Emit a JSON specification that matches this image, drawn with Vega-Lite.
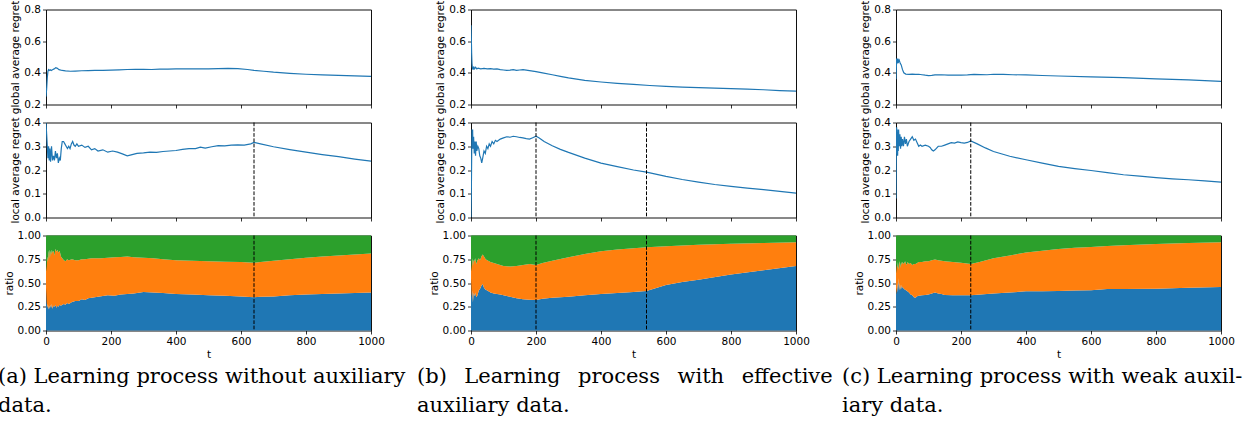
{
"$schema": "https://vega.github.io/schema/vega-lite/v6.json",
"autosize": {"type": "none"},
"padding": {"left": 46, "top": 9.5, "right": 1197, "bottom": 411.5},
"background": "white",
"config": {
 "view": {"stroke": "#111", "strokeWidth": 1},
 "axis": {"domain": false, "grid": false, "labelFont": "DejaVu Sans", "labelFontSize": 10.5, "labelColor": "#000", "tickColor": "#000", "tickSize": 3.5, "tickWidth": 0.8, "labelPadding": 2, "titleFont": "DejaVu Sans", "titleFontSize": 10.5, "titleFontWeight": "normal", "titleColor": "#000", "titlePadding": 3, "labelFlush": false, "labelOverlap": false},
 "title": {"font": "DejaVu Serif", "fontSize": 21, "fontWeight": "normal", "color": "#000", "orient": "bottom", "anchor": "start", "frame": "group", "lineHeight": 29, "offset": 6}
},
"datasets": {
 "ga": [{"t":0,"v":0.25},{"t":2,"v":0.3},{"t":4,"v":0.37},{"t":6,"v":0.41},{"t":8,"v":0.42},{"t":10,"v":0.415},{"t":13,"v":0.42},{"t":16,"v":0.415},{"t":20,"v":0.42},{"t":25,"v":0.425},{"t":30,"v":0.432},{"t":35,"v":0.428},{"t":40,"v":0.42},{"t":50,"v":0.415},{"t":60,"v":0.412},{"t":75,"v":0.41},{"t":90,"v":0.411},{"t":110,"v":0.413},{"t":130,"v":0.414},{"t":150,"v":0.415},{"t":175,"v":0.416},{"t":200,"v":0.417},{"t":225,"v":0.419},{"t":250,"v":0.421},{"t":275,"v":0.422},{"t":300,"v":0.422},{"t":325,"v":0.421},{"t":350,"v":0.423},{"t":375,"v":0.424},{"t":400,"v":0.425},{"t":450,"v":0.425},{"t":500,"v":0.425},{"t":530,"v":0.426},{"t":560,"v":0.428},{"t":590,"v":0.426},{"t":620,"v":0.421},{"t":640,"v":0.416},{"t":670,"v":0.41},{"t":700,"v":0.404},{"t":750,"v":0.397},{"t":800,"v":0.391},{"t":850,"v":0.387},{"t":900,"v":0.384},{"t":950,"v":0.381},{"t":1000,"v":0.378}],
 "la": [{"t":0,"v":0.4},{"t":2,"v":0.35},{"t":4,"v":0.3},{"t":6,"v":0.25},{"t":8,"v":0.3},{"t":10,"v":0.24},{"t":12,"v":0.29},{"t":14,"v":0.235},{"t":17,"v":0.3},{"t":20,"v":0.24},{"t":23,"v":0.26},{"t":26,"v":0.24},{"t":29,"v":0.28},{"t":32,"v":0.25},{"t":35,"v":0.27},{"t":38,"v":0.23},{"t":41,"v":0.25},{"t":44,"v":0.24},{"t":47,"v":0.29},{"t":50,"v":0.32},{"t":54,"v":0.32},{"t":58,"v":0.31},{"t":62,"v":0.3},{"t":66,"v":0.29},{"t":70,"v":0.3},{"t":74,"v":0.29},{"t":78,"v":0.31},{"t":82,"v":0.32},{"t":86,"v":0.305},{"t":90,"v":0.3},{"t":95,"v":0.31},{"t":100,"v":0.3},{"t":110,"v":0.305},{"t":120,"v":0.295},{"t":130,"v":0.3},{"t":140,"v":0.285},{"t":150,"v":0.29},{"t":160,"v":0.28},{"t":175,"v":0.285},{"t":190,"v":0.275},{"t":205,"v":0.28},{"t":220,"v":0.275},{"t":235,"v":0.268},{"t":250,"v":0.26},{"t":265,"v":0.265},{"t":280,"v":0.27},{"t":300,"v":0.272},{"t":320,"v":0.275},{"t":340,"v":0.274},{"t":360,"v":0.278},{"t":380,"v":0.28},{"t":400,"v":0.282},{"t":420,"v":0.287},{"t":440,"v":0.29},{"t":460,"v":0.29},{"t":475,"v":0.296},{"t":490,"v":0.292},{"t":510,"v":0.298},{"t":530,"v":0.303},{"t":550,"v":0.302},{"t":570,"v":0.305},{"t":590,"v":0.306},{"t":610,"v":0.305},{"t":630,"v":0.31},{"t":640,"v":0.316},{"t":660,"v":0.31},{"t":700,"v":0.298},{"t":750,"v":0.286},{"t":800,"v":0.275},{"t":850,"v":0.265},{"t":900,"v":0.256},{"t":950,"v":0.246},{"t":1000,"v":0.237}],
 "ra": [{"t":0,"b":0.45,"o":0.62},{"t":2,"b":0.3,"o":0.7},{"t":4,"b":0.24,"o":0.78},{"t":6,"b":0.28,"o":0.72},{"t":8,"b":0.22,"o":0.82},{"t":10,"b":0.26,"o":0.85},{"t":12,"b":0.23,"o":0.76},{"t":14,"b":0.27,"o":0.84},{"t":16,"b":0.24,"o":0.8},{"t":18,"b":0.28,"o":0.85},{"t":20,"b":0.23,"o":0.82},{"t":23,"b":0.26,"o":0.84},{"t":26,"b":0.25,"o":0.79},{"t":29,"b":0.27,"o":0.86},{"t":32,"b":0.24,"o":0.83},{"t":35,"b":0.26,"o":0.85},{"t":38,"b":0.25,"o":0.82},{"t":42,"b":0.27,"o":0.84},{"t":46,"b":0.26,"o":0.78},{"t":50,"b":0.27,"o":0.76},{"t":55,"b":0.28,"o":0.74},{"t":60,"b":0.27,"o":0.73},{"t":65,"b":0.29,"o":0.75},{"t":70,"b":0.28,"o":0.74},{"t":80,"b":0.3,"o":0.75},{"t":90,"b":0.31,"o":0.74},{"t":100,"b":0.31,"o":0.74},{"t":110,"b":0.33,"o":0.75},{"t":120,"b":0.32,"o":0.75},{"t":130,"b":0.34,"o":0.755},{"t":140,"b":0.345,"o":0.76},{"t":150,"b":0.35,"o":0.76},{"t":170,"b":0.36,"o":0.76},{"t":190,"b":0.37,"o":0.765},{"t":210,"b":0.365,"o":0.77},{"t":230,"b":0.38,"o":0.775},{"t":250,"b":0.385,"o":0.78},{"t":270,"b":0.39,"o":0.77},{"t":300,"b":0.405,"o":0.765},{"t":330,"b":0.4,"o":0.76},{"t":360,"b":0.395,"o":0.75},{"t":400,"b":0.385,"o":0.74},{"t":450,"b":0.38,"o":0.735},{"t":500,"b":0.372,"o":0.73},{"t":550,"b":0.365,"o":0.725},{"t":600,"b":0.357,"o":0.72},{"t":640,"b":0.35,"o":0.712},{"t":660,"b":0.355,"o":0.72},{"t":700,"b":0.357,"o":0.735},{"t":750,"b":0.37,"o":0.75},{"t":800,"b":0.38,"o":0.765},{"t":850,"b":0.385,"o":0.78},{"t":900,"b":0.39,"o":0.79},{"t":950,"b":0.395,"o":0.8},{"t":1000,"b":0.4,"o":0.81}],
 "gb": [{"t":0,"v":0.7},{"t":1,"v":0.62},{"t":2,"v":0.52},{"t":3,"v":0.46},{"t":4,"v":0.435},{"t":6,"v":0.42},{"t":8,"v":0.44},{"t":10,"v":0.425},{"t":14,"v":0.435},{"t":18,"v":0.425},{"t":22,"v":0.43},{"t":30,"v":0.425},{"t":40,"v":0.428},{"t":50,"v":0.425},{"t":60,"v":0.427},{"t":70,"v":0.424},{"t":80,"v":0.425},{"t":90,"v":0.42},{"t":100,"v":0.418},{"t":110,"v":0.415},{"t":120,"v":0.417},{"t":130,"v":0.42},{"t":140,"v":0.416},{"t":150,"v":0.418},{"t":160,"v":0.42},{"t":170,"v":0.417},{"t":180,"v":0.414},{"t":200,"v":0.408},{"t":220,"v":0.4},{"t":250,"v":0.388},{"t":275,"v":0.378},{"t":300,"v":0.368},{"t":325,"v":0.36},{"t":350,"v":0.352},{"t":400,"v":0.342},{"t":450,"v":0.334},{"t":500,"v":0.327},{"t":550,"v":0.32},{"t":600,"v":0.314},{"t":650,"v":0.31},{"t":700,"v":0.306},{"t":750,"v":0.303},{"t":800,"v":0.3},{"t":850,"v":0.297},{"t":900,"v":0.293},{"t":950,"v":0.288},{"t":1000,"v":0.284}],
 "lb": [{"t":0,"v":0.0},{"t":1,"v":0.1},{"t":2,"v":0.25},{"t":3,"v":0.37},{"t":4,"v":0.3},{"t":5,"v":0.37},{"t":6,"v":0.29},{"t":8,"v":0.34},{"t":10,"v":0.27},{"t":12,"v":0.32},{"t":14,"v":0.26},{"t":16,"v":0.32},{"t":18,"v":0.28},{"t":21,"v":0.3},{"t":24,"v":0.29},{"t":27,"v":0.26},{"t":30,"v":0.25},{"t":33,"v":0.23},{"t":36,"v":0.25},{"t":40,"v":0.28},{"t":44,"v":0.27},{"t":48,"v":0.3},{"t":52,"v":0.29},{"t":56,"v":0.31},{"t":60,"v":0.3},{"t":65,"v":0.32},{"t":70,"v":0.31},{"t":75,"v":0.325},{"t":80,"v":0.32},{"t":90,"v":0.33},{"t":100,"v":0.335},{"t":110,"v":0.34},{"t":120,"v":0.338},{"t":130,"v":0.342},{"t":140,"v":0.34},{"t":150,"v":0.337},{"t":160,"v":0.335},{"t":170,"v":0.332},{"t":180,"v":0.33},{"t":190,"v":0.336},{"t":200,"v":0.342},{"t":210,"v":0.335},{"t":225,"v":0.32},{"t":250,"v":0.302},{"t":275,"v":0.287},{"t":300,"v":0.274},{"t":350,"v":0.25},{"t":400,"v":0.229},{"t":450,"v":0.214},{"t":500,"v":0.2},{"t":540,"v":0.191},{"t":600,"v":0.173},{"t":650,"v":0.16},{"t":700,"v":0.149},{"t":750,"v":0.139},{"t":800,"v":0.131},{"t":850,"v":0.124},{"t":900,"v":0.117},{"t":950,"v":0.11},{"t":1000,"v":0.103}],
 "rb": [{"t":0,"b":0.55,"o":0.62},{"t":2,"b":0.35,"o":0.7},{"t":4,"b":0.42,"o":0.76},{"t":6,"b":0.3,"o":0.68},{"t":8,"b":0.4,"o":0.74},{"t":10,"b":0.36,"o":0.73},{"t":13,"b":0.4,"o":0.76},{"t":16,"b":0.35,"o":0.7},{"t":20,"b":0.37,"o":0.74},{"t":24,"b":0.42,"o":0.76},{"t":28,"b":0.44,"o":0.74},{"t":32,"b":0.47,"o":0.78},{"t":36,"b":0.49,"o":0.8},{"t":40,"b":0.45,"o":0.78},{"t":45,"b":0.43,"o":0.75},{"t":50,"b":0.42,"o":0.74},{"t":60,"b":0.4,"o":0.72},{"t":70,"b":0.39,"o":0.71},{"t":80,"b":0.385,"o":0.7},{"t":90,"b":0.38,"o":0.69},{"t":100,"b":0.37,"o":0.68},{"t":120,"b":0.355,"o":0.675},{"t":140,"b":0.34,"o":0.68},{"t":160,"b":0.33,"o":0.69},{"t":180,"b":0.325,"o":0.7},{"t":200,"b":0.32,"o":0.69},{"t":220,"b":0.335,"o":0.71},{"t":250,"b":0.345,"o":0.735},{"t":300,"b":0.355,"o":0.77},{"t":350,"b":0.37,"o":0.805},{"t":400,"b":0.385,"o":0.835},{"t":450,"b":0.395,"o":0.852},{"t":500,"b":0.405,"o":0.865},{"t":540,"b":0.415,"o":0.877},{"t":600,"b":0.48,"o":0.888},{"t":650,"b":0.51,"o":0.895},{"t":700,"b":0.535,"o":0.902},{"t":800,"b":0.59,"o":0.912},{"t":900,"b":0.635,"o":0.922},{"t":1000,"b":0.678,"o":0.93}],
 "gc": [{"t":0,"v":0.36},{"t":2,"v":0.49},{"t":4,"v":0.46},{"t":6,"v":0.49},{"t":8,"v":0.47},{"t":10,"v":0.48},{"t":13,"v":0.46},{"t":16,"v":0.45},{"t":20,"v":0.42},{"t":24,"v":0.4},{"t":30,"v":0.392},{"t":40,"v":0.39},{"t":50,"v":0.392},{"t":60,"v":0.39},{"t":70,"v":0.391},{"t":80,"v":0.388},{"t":90,"v":0.385},{"t":100,"v":0.383},{"t":110,"v":0.384},{"t":120,"v":0.387},{"t":140,"v":0.388},{"t":160,"v":0.386},{"t":180,"v":0.385},{"t":200,"v":0.386},{"t":220,"v":0.387},{"t":240,"v":0.39},{"t":260,"v":0.389},{"t":280,"v":0.388},{"t":300,"v":0.391},{"t":330,"v":0.39},{"t":360,"v":0.388},{"t":400,"v":0.387},{"t":450,"v":0.383},{"t":500,"v":0.38},{"t":600,"v":0.375},{"t":700,"v":0.37},{"t":800,"v":0.362},{"t":900,"v":0.355},{"t":1000,"v":0.346}],
 "lc": [{"t":0,"v":0.08},{"t":1,"v":0.3},{"t":2,"v":0.38},{"t":3,"v":0.27},{"t":4,"v":0.37},{"t":5,"v":0.26},{"t":6,"v":0.36},{"t":7,"v":0.28},{"t":8,"v":0.37},{"t":10,"v":0.3},{"t":12,"v":0.35},{"t":14,"v":0.29},{"t":16,"v":0.34},{"t":18,"v":0.3},{"t":20,"v":0.33},{"t":23,"v":0.3},{"t":26,"v":0.34},{"t":29,"v":0.31},{"t":32,"v":0.33},{"t":35,"v":0.3},{"t":40,"v":0.32},{"t":45,"v":0.33},{"t":50,"v":0.34},{"t":55,"v":0.325},{"t":60,"v":0.33},{"t":65,"v":0.315},{"t":70,"v":0.3},{"t":75,"v":0.305},{"t":80,"v":0.3},{"t":90,"v":0.305},{"t":100,"v":0.3},{"t":105,"v":0.295},{"t":110,"v":0.285},{"t":115,"v":0.28},{"t":120,"v":0.285},{"t":130,"v":0.3},{"t":140,"v":0.3},{"t":150,"v":0.305},{"t":160,"v":0.31},{"t":170,"v":0.315},{"t":180,"v":0.313},{"t":190,"v":0.318},{"t":200,"v":0.315},{"t":210,"v":0.313},{"t":220,"v":0.316},{"t":230,"v":0.322},{"t":250,"v":0.31},{"t":275,"v":0.293},{"t":300,"v":0.278},{"t":350,"v":0.258},{"t":400,"v":0.243},{"t":450,"v":0.229},{"t":500,"v":0.215},{"t":550,"v":0.206},{"t":600,"v":0.198},{"t":650,"v":0.189},{"t":700,"v":0.18},{"t":750,"v":0.174},{"t":800,"v":0.168},{"t":850,"v":0.163},{"t":900,"v":0.159},{"t":950,"v":0.154},{"t":1000,"v":0.149}],
 "rc": [{"t":0,"b":0.45,"o":0.6},{"t":2,"b":0.38,"o":0.7},{"t":4,"b":0.5,"o":0.66},{"t":6,"b":0.4,"o":0.72},{"t":8,"b":0.55,"o":0.64},{"t":10,"b":0.42,"o":0.7},{"t":12,"b":0.5,"o":0.73},{"t":14,"b":0.43,"o":0.66},{"t":16,"b":0.48,"o":0.72},{"t":18,"b":0.44,"o":0.69},{"t":20,"b":0.46,"o":0.72},{"t":24,"b":0.44,"o":0.7},{"t":28,"b":0.43,"o":0.73},{"t":32,"b":0.42,"o":0.69},{"t":36,"b":0.41,"o":0.72},{"t":40,"b":0.4,"o":0.7},{"t":45,"b":0.38,"o":0.71},{"t":50,"b":0.37,"o":0.69},{"t":55,"b":0.35,"o":0.7},{"t":60,"b":0.345,"o":0.7},{"t":65,"b":0.36,"o":0.71},{"t":70,"b":0.365,"o":0.72},{"t":80,"b":0.37,"o":0.72},{"t":90,"b":0.375,"o":0.73},{"t":100,"b":0.38,"o":0.73},{"t":110,"b":0.39,"o":0.74},{"t":120,"b":0.4,"o":0.748},{"t":130,"b":0.39,"o":0.74},{"t":140,"b":0.385,"o":0.735},{"t":150,"b":0.375,"o":0.73},{"t":175,"b":0.37,"o":0.72},{"t":200,"b":0.37,"o":0.712},{"t":230,"b":0.372,"o":0.7},{"t":260,"b":0.38,"o":0.725},{"t":300,"b":0.39,"o":0.76},{"t":350,"b":0.4,"o":0.79},{"t":400,"b":0.412,"o":0.82},{"t":450,"b":0.414,"o":0.84},{"t":500,"b":0.415,"o":0.858},{"t":550,"b":0.42,"o":0.87},{"t":600,"b":0.425,"o":0.88},{"t":650,"b":0.438,"o":0.89},{"t":700,"b":0.437,"o":0.898},{"t":800,"b":0.44,"o":0.91},{"t":900,"b":0.45,"o":0.92},{"t":1000,"b":0.458,"o":0.93}],
 "va": [{"t":640}],
 "vb": [{"t":200},{"t":540}],
 "vc": [{"t":230}]
},
"columns": 3,
"spacing": {"row": 18, "column": 100},
"bounds": "flush",
"concat": [
 {"width":325,"height":95,"data":{"name":"ga"},"mark":{"type":"line","color":"#1f77b4","strokeWidth":1.2,"clip":true},"encoding":{"x":{"field":"t","type":"quantitative","scale":{"domain":[0,1000],"nice":false},"axis":{"values":[0,200,400,600,800,1000],"labels":false,"title":null}},"y":{"field":"v","type":"quantitative","scale":{"domain":[0.2,0.8],"nice":false,"zero":false},"axis":{"values":[0.2,0.4,0.6,0.8],"format":".1f","title":"global average regret"}}}},
 {"width":325,"height":95,"data":{"name":"gb"},"mark":{"type":"line","color":"#1f77b4","strokeWidth":1.2,"clip":true},"encoding":{"x":{"field":"t","type":"quantitative","scale":{"domain":[0,1000],"nice":false},"axis":{"values":[0,200,400,600,800,1000],"labels":false,"title":null}},"y":{"field":"v","type":"quantitative","scale":{"domain":[0.2,0.8],"nice":false,"zero":false},"axis":{"values":[0.2,0.4,0.6,0.8],"format":".1f","title":"global average regret"}}}},
 {"width":325,"height":95,"data":{"name":"gc"},"mark":{"type":"line","color":"#1f77b4","strokeWidth":1.2,"clip":true},"encoding":{"x":{"field":"t","type":"quantitative","scale":{"domain":[0,1000],"nice":false},"axis":{"values":[0,200,400,600,800,1000],"labels":false,"title":null}},"y":{"field":"v","type":"quantitative","scale":{"domain":[0.2,0.8],"nice":false,"zero":false},"axis":{"values":[0.2,0.4,0.6,0.8],"format":".1f","title":"global average regret"}}}},
 {"width":325,"height":95,"layer":[
  {"data":{"name":"la"},"mark":{"type":"line","color":"#1f77b4","strokeWidth":1.2,"clip":true},"encoding":{"x":{"field":"t","type":"quantitative","scale":{"domain":[0,1000],"nice":false},"axis":{"values":[0,200,400,600,800,1000],"labels":false,"title":null}},"y":{"field":"v","type":"quantitative","scale":{"domain":[0,0.4],"nice":false},"axis":{"values":[0,0.1,0.2,0.3,0.4],"format":".1f","title":"local average regret"}}}},
  {"data":{"name":"va"},"mark":{"type":"rule","color":"#000","strokeDash":[3.7,1.6],"strokeWidth":1},"encoding":{"x":{"field":"t","type":"quantitative"}}}]},
 {"width":325,"height":95,"layer":[
  {"data":{"name":"lb"},"mark":{"type":"line","color":"#1f77b4","strokeWidth":1.2,"clip":true},"encoding":{"x":{"field":"t","type":"quantitative","scale":{"domain":[0,1000],"nice":false},"axis":{"values":[0,200,400,600,800,1000],"labels":false,"title":null}},"y":{"field":"v","type":"quantitative","scale":{"domain":[0,0.4],"nice":false},"axis":{"values":[0,0.1,0.2,0.3,0.4],"format":".1f","title":"local average regret"}}}},
  {"data":{"name":"vb"},"mark":{"type":"rule","color":"#000","strokeDash":[3.7,1.6],"strokeWidth":1},"encoding":{"x":{"field":"t","type":"quantitative"}}}]},
 {"width":325,"height":95,"layer":[
  {"data":{"name":"lc"},"mark":{"type":"line","color":"#1f77b4","strokeWidth":1.2,"clip":true},"encoding":{"x":{"field":"t","type":"quantitative","scale":{"domain":[0,1000],"nice":false},"axis":{"values":[0,200,400,600,800,1000],"labels":false,"title":null}},"y":{"field":"v","type":"quantitative","scale":{"domain":[0,0.4],"nice":false},"axis":{"values":[0,0.1,0.2,0.3,0.4],"format":".1f","title":"local average regret"}}}},
  {"data":{"name":"vc"},"mark":{"type":"rule","color":"#000","strokeDash":[3.7,1.6],"strokeWidth":1},"encoding":{"x":{"field":"t","type":"quantitative"}}}]},
 {"width":325,"height":95,
  "title":{"text":["(a) Learning process without auxiliary","data."],"dx":-48},
  "layer":[
  {"data":{"name":"ra"},"layer":[
   {"mark":{"type":"area","color":"#1f77b4"},"encoding":{"x":{"field":"t","type":"quantitative","scale":{"domain":[0,1000],"nice":false},"axis":{"values":[0,200,400,600,800,1000],"format":"d","title":"t"}},"y":{"field":"b","type":"quantitative","scale":{"domain":[0,1],"nice":false},"axis":{"values":[0,0.25,0.5,0.75,1],"format":".2f","title":"ratio"}},"y2":{"datum":0}}},
   {"mark":{"type":"area","color":"#ff7f0e"},"encoding":{"x":{"field":"t","type":"quantitative"},"y":{"field":"o","type":"quantitative","axis":{"values":[0,0.25,0.5,0.75,1],"format":".2f","title":"ratio"}},"y2":{"field":"b"}}},
   {"mark":{"type":"area","color":"#2ca02c"},"encoding":{"x":{"field":"t","type":"quantitative"},"y":{"field":"o","type":"quantitative","axis":{"values":[0,0.25,0.5,0.75,1],"format":".2f","title":"ratio"}},"y2":{"datum":1}}}]},
  {"data":{"name":"va"},"mark":{"type":"rule","color":"#000","strokeDash":[3.7,1.6],"strokeWidth":1},"encoding":{"x":{"field":"t","type":"quantitative"}}}]},
 {"width":325,"height":95,
  "title":{"text":["(b)\u00a0\u00a0\u2009Learning\u00a0\u00a0\u2009process\u00a0\u00a0\u2009with\u00a0\u00a0\u2009effective","auxiliary data."],"dx":-54},
  "layer":[
  {"data":{"name":"rb"},"layer":[
   {"mark":{"type":"area","color":"#1f77b4"},"encoding":{"x":{"field":"t","type":"quantitative","scale":{"domain":[0,1000],"nice":false},"axis":{"values":[0,200,400,600,800,1000],"format":"d","title":"t"}},"y":{"field":"b","type":"quantitative","scale":{"domain":[0,1],"nice":false},"axis":{"values":[0,0.25,0.5,0.75,1],"format":".2f","title":"ratio"}},"y2":{"datum":0}}},
   {"mark":{"type":"area","color":"#ff7f0e"},"encoding":{"x":{"field":"t","type":"quantitative"},"y":{"field":"o","type":"quantitative","axis":{"values":[0,0.25,0.5,0.75,1],"format":".2f","title":"ratio"}},"y2":{"field":"b"}}},
   {"mark":{"type":"area","color":"#2ca02c"},"encoding":{"x":{"field":"t","type":"quantitative"},"y":{"field":"o","type":"quantitative","axis":{"values":[0,0.25,0.5,0.75,1],"format":".2f","title":"ratio"}},"y2":{"datum":1}}}]},
  {"data":{"name":"vb"},"mark":{"type":"rule","color":"#000","strokeDash":[3.7,1.6],"strokeWidth":1},"encoding":{"x":{"field":"t","type":"quantitative"}}}]},
 {"width":325,"height":95,
  "title":{"text":["(c) Learning process with weak auxil-","iary data."],"dx":-54},
  "layer":[
  {"data":{"name":"rc"},"layer":[
   {"mark":{"type":"area","color":"#1f77b4"},"encoding":{"x":{"field":"t","type":"quantitative","scale":{"domain":[0,1000],"nice":false},"axis":{"values":[0,200,400,600,800,1000],"format":"d","title":"t"}},"y":{"field":"b","type":"quantitative","scale":{"domain":[0,1],"nice":false},"axis":{"values":[0,0.25,0.5,0.75,1],"format":".2f","title":"ratio"}},"y2":{"datum":0}}},
   {"mark":{"type":"area","color":"#ff7f0e"},"encoding":{"x":{"field":"t","type":"quantitative"},"y":{"field":"o","type":"quantitative","axis":{"values":[0,0.25,0.5,0.75,1],"format":".2f","title":"ratio"}},"y2":{"field":"b"}}},
   {"mark":{"type":"area","color":"#2ca02c"},"encoding":{"x":{"field":"t","type":"quantitative"},"y":{"field":"o","type":"quantitative","axis":{"values":[0,0.25,0.5,0.75,1],"format":".2f","title":"ratio"}},"y2":{"datum":1}}}]},
  {"data":{"name":"vc"},"mark":{"type":"rule","color":"#000","strokeDash":[3.7,1.6],"strokeWidth":1},"encoding":{"x":{"field":"t","type":"quantitative"}}}]}
]
}
